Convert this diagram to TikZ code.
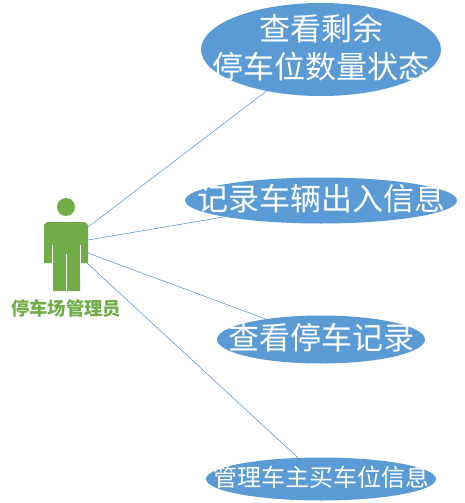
\documentclass[tikz,border=0pt]{standalone}
\usepackage{fontspec}
\setmainfont{Noto Sans CJK SC}
\usetikzlibrary{shapes.geometric}
\definecolor{usecaseblue}{HTML}{5B9BD5}
\definecolor{actorgreen}{HTML}{70AD47}
\tikzset{
    usecase/.style={ellipse, fill=usecaseblue, inner sep=0pt},
    caselabel/.style={text=white, inner sep=0pt, align=center, yshift=2pt},
    link/.style={draw=usecaseblue, line width=0.6pt},
    actorpart/.style={fill=actorgreen},
    slit/.style={draw=white, line width=0.7pt}
}
\begin{document}
\begin{tikzpicture}[x=1pt,y=-1pt]
    \useasboundingbox (0,0) rectangle (465,503);

    % use cases
    \node[usecase, minimum width=240pt, minimum height=93pt] (view) at (321,49.5) {};
    \node[usecase, minimum width=272pt, minimum height=46pt] (record) at (321,200.5) {};
    \node[usecase, minimum width=208pt, minimum height=48pt] (history) at (321,339.5) {};
    \node[usecase, minimum width=230pt, minimum height=43pt] (manage) at (321,479) {};

    \node[caselabel, font=\fontsize{31}{38}\selectfont] (viewtext) at (view) {查看剩余\\停车位数量状态};
    \node[caselabel, font=\fontsize{31}{36}\selectfont] (recordtext) at (record) {记录车辆出入信息};
    \node[caselabel, font=\fontsize{31}{36}\selectfont] (historytext) at (history) {查看停车记录};
    \node[caselabel, font=\fontsize{24}{28}\selectfont] (managetext) at (manage) {管理车主买车位信息};

    % actor
    \fill[actorpart] (66,207) circle (9);
    \fill[actorpart] (47,222) -- (85,222) -- (88,225) -- (88,263) -- (80,263) -- (80,291)
        -- (53,291) -- (53,263) -- (44,263) -- (44,225) -- cycle;
    \draw[slit] (52.5,245) -- (52.5,263);
    \draw[slit] (80.5,245) -- (80.5,263);
    \draw[slit] (66,254) -- (66,291);
    \node[text=actorgreen, font=\fontsize{18.3}{20}\selectfont\bfseries, inner sep=0pt] (admin) at (66,309) {停车场管理员};

    \coordinate (armtop) at (88,227);
    \coordinate (armupper) at (88,240);
    \coordinate (armlower) at (88,253);
    \coordinate (armend) at (87,263);

    % connectors
    \draw[link] (armtop) -- (view);
    \draw[link] (armupper) -- (record);
    \draw[link] (armlower) -- (history);
    \draw[link] (armend) -- (manage);
\end{tikzpicture}
\end{document}
